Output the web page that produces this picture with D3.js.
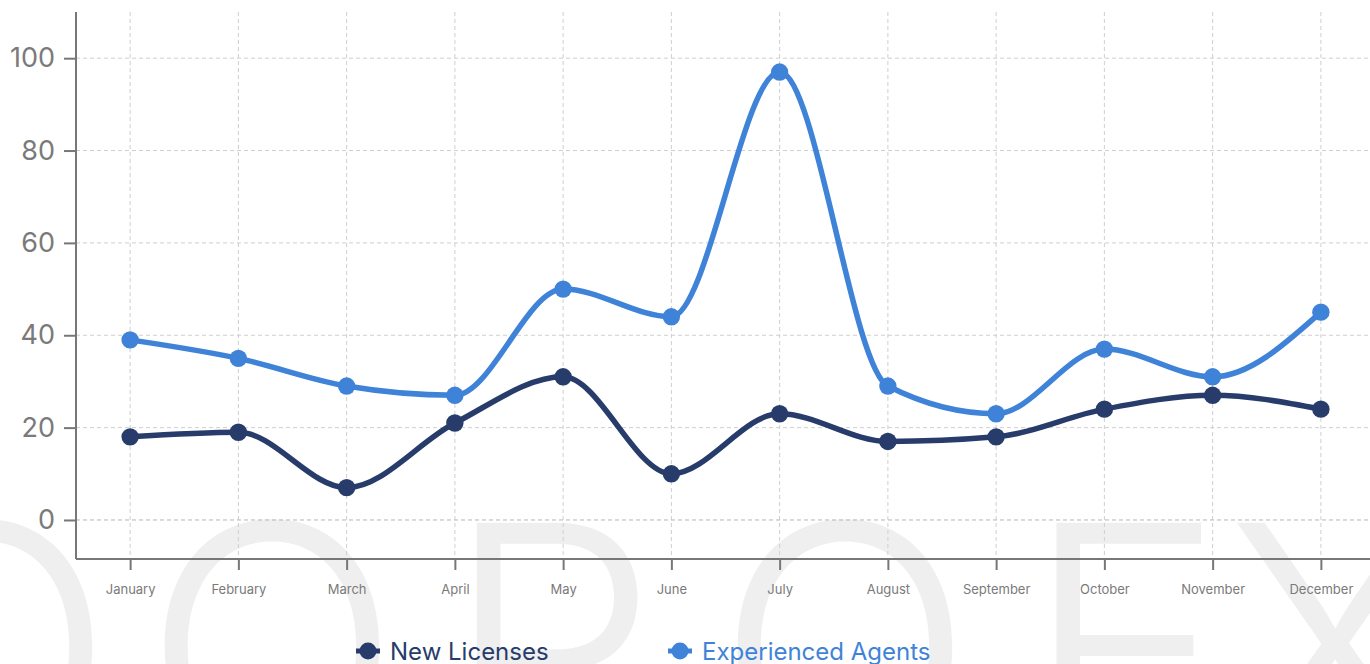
<!DOCTYPE html>
<html>
<head>
<meta charset="utf-8">
<title>Licenses chart</title>
<script src="https://cdn.jsdelivr.net/npm/d3@7"></script>
<style>
  body { margin: 0; background: #fff; }
  svg { display: block; font-family: Inter, "Noto Sans", sans-serif; }
  .grid line { stroke: #cfcfcf; stroke-width: 1; stroke-dasharray: 4,3; }
  .axis path, .axis line { stroke: #777; stroke-width: 2; }
  .axis text { fill: #7a7a7a; }
</style>
</head>
<body>
<script>
  var months = ["January","February","March","April","May","June","July","August","September","October","November","December"];
  var newLicenses = [18, 19, 7, 21, 31, 10, 23, 17, 18, 24, 27, 24];
  var experiencedAgents = [39, 35, 29, 27, 50, 44, 97, 29, 23, 37, 31, 45];
  var yTicks = [0, 20, 40, 60, 80, 100];
  var seriesNames = ["New Licenses", "Experienced Agents"];
  var seriesColors = ["#273c6a", "#3f83d8"];

  var width = 1370, height = 664,
      mLeft = 76, mRight = 1370, mTop = 12, mBottom = 559;

  var svg = d3.select("body").append("svg").attr("width", width).attr("height", height);

  // faint watermark behind everything
  var wmLetters = ["O", "O", "R", "O", "E", "X"];
  var wmX = [-15, 272, 552, 845, 1125, 1335];
  svg.append("g").selectAll("text").data(wmLetters).enter().append("text")
    .text(function(d){ return d; })
    .attr("x", function(d, i){ return wmX[i]; }).attr("y", 770)
    .attr("text-anchor", "middle")
    .attr("font-size", 340).attr("font-weight", 350)
    .attr("fill", "#efefef");

  // the category band runs a little past the right edge of the svg
  var x = d3.scalePoint().domain(months).range([mLeft, 1375]).padding(0.5);
  var y = d3.scaleLinear().domain([-8.45, 110]).range([mBottom, mTop]);

  // grid
  var grid = svg.append("g").attr("class", "grid");
  grid.selectAll(".v").data(months).enter().append("line").attr("class", "v")
    .attr("x1", function(d){ return x(d); }).attr("x2", function(d){ return x(d); })
    .attr("y1", mTop).attr("y2", mBottom);
  grid.selectAll(".h").data(yTicks).enter().append("line").attr("class", "h")
    .attr("x1", mLeft).attr("x2", mRight)
    .attr("y1", function(d){ return y(d); }).attr("y2", function(d){ return y(d); })
    .style("stroke", function(d){ return d === 0 ? "#b5b5b5" : null; });

  // axes
  var yAxis = svg.append("g").attr("class", "axis").attr("transform", "translate(" + mLeft + ",0)")
    .call(d3.axisLeft(y).tickValues(yTicks).tickSize(12).tickSizeOuter(0).tickPadding(9));
  yAxis.selectAll("text").attr("font-size", 27).attr("font-family", "Inter, sans-serif");

  var xAxis = svg.append("g").attr("class", "axis").attr("transform", "translate(0," + mBottom + ")")
    .call(d3.axisBottom(x).tickSize(11).tickSizeOuter(0).tickPadding(15));
  xAxis.selectAll("text").attr("font-size", 13).attr("font-family", "Inter, sans-serif");
  xAxis.select(".domain").attr("d", "M" + mLeft + ",0H" + mRight);
  yAxis.select(".domain").attr("d", "M0," + mTop + "V" + mBottom);

  var line = d3.line()
    .x(function(d, i){ return x(months[i]); })
    .y(function(d){ return y(d); })
    .curve(d3.curveMonotoneX);

  var series = [newLicenses, experiencedAgents];
  series.forEach(function(vals, k) {
    var g = svg.append("g");
    g.append("path").attr("d", line(vals))
      .attr("fill", "none").attr("stroke", seriesColors[k]).attr("stroke-width", 5.5);
    g.selectAll("circle").data(vals).enter().append("circle")
      .attr("cx", function(d, i){ return x(months[i]); })
      .attr("cy", function(d){ return y(d); })
      .attr("r", 8.7).attr("fill", seriesColors[k]);
  });

  // legend
  var legX = [368, 680];
  var leg = svg.selectAll(".leg").data(seriesNames).enter().append("g").attr("class", "leg")
    .attr("transform", function(d, i){ return "translate(" + legX[i] + ",651)"; });
  leg.append("line").attr("x1", -12).attr("x2", 12).attr("y1", 0).attr("y2", 0)
    .attr("stroke", function(d, i){ return seriesColors[i]; }).attr("stroke-width", 5);
  leg.append("circle").attr("r", 8.5).attr("fill", function(d, i){ return seriesColors[i]; });
  leg.append("text").text(function(d){ return d; })
    .attr("x", 22).attr("y", 8.5).attr("font-size", 24)
    .attr("fill", function(d, i){ return seriesColors[i]; });
</script>
</body>
</html>
